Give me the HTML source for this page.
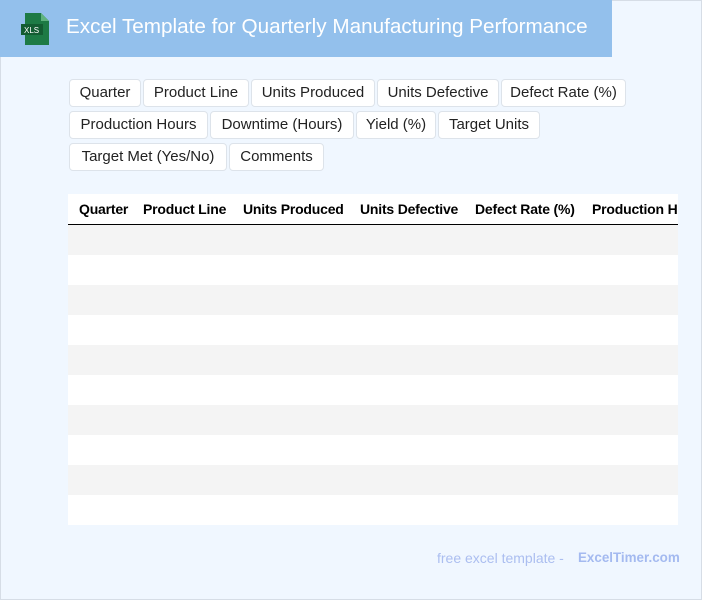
<!DOCTYPE html>
<html><head><meta charset="utf-8"><style>
*{margin:0;padding:0;box-sizing:border-box}
body{width:702px;height:600px;overflow:hidden;background:#fff;font-family:"Liberation Sans",sans-serif}
#pg{position:absolute;left:0;top:0;width:702px;height:600px;background:#f0f7ff}
#bd{position:absolute;left:0;top:0;width:702px;height:600px;border:1px solid #d6dde6}
#hd{position:absolute;left:0;top:0;width:612px;height:57px;background:#93c0ec}
#hd .t{position:absolute;left:66px;top:15px;font-size:20.7px;color:#fff;white-space:nowrap}
.tag{position:absolute;height:28px;background:#fff;border:1px solid #dde3ea;border-radius:4px;font-size:15px;color:#222;line-height:26px;text-align:center;white-space:nowrap}
.th{position:absolute;top:201px;font-size:14px;font-weight:bold;color:#000;white-space:nowrap;letter-spacing:-0.2px}
.r{position:absolute;left:68px;width:610px;height:30px}
</style></head><body><div id="pg">
<div id="bd"></div>
<div id="hd">
<svg style="position:absolute;left:21px;top:13px" width="30" height="32"><path d="M4 0h16l8 8v24H4z" fill="#1d7a45"/><path d="M20 0l8 8h-8z" fill="#5fb37f"/><rect x="0" y="11" width="22" height="11" fill="#135c32"/><text x="3" y="20" font-size="8" fill="#fff" font-family="Liberation Sans">XLS</text></svg>
<div class="t">Excel Template for Quarterly Manufacturing Performance</div></div>
<div class="tag" style="left:69px;top:79px;width:72px">Quarter</div>
<div class="tag" style="left:143px;top:79px;width:106px">Product Line</div>
<div class="tag" style="left:251px;top:79px;width:124px">Units Produced</div>
<div class="tag" style="left:377px;top:79px;width:122px">Units Defective</div>
<div class="tag" style="left:501px;top:79px;width:125px">Defect Rate (%)</div>
<div class="tag" style="left:69px;top:111px;width:139px">Production Hours</div>
<div class="tag" style="left:210px;top:111px;width:144px">Downtime (Hours)</div>
<div class="tag" style="left:356px;top:111px;width:80px">Yield (%)</div>
<div class="tag" style="left:438px;top:111px;width:102px">Target Units</div>
<div class="tag" style="left:69px;top:143px;width:158px">Target Met (Yes/No)</div>
<div class="tag" style="left:229px;top:143px;width:95px">Comments</div>
<div class="r" style="top:194px;height:31px;background:#fff;border-bottom:1.5px solid #000"></div>
<div class="th" style="left:79px">Quarter</div>
<div class="th" style="left:143px">Product Line</div>
<div class="th" style="left:243px">Units Produced</div>
<div class="th" style="left:360px">Units Defective</div>
<div class="th" style="left:475px">Defect Rate (%)</div>
<div class="th" style="left:592px;width:86px;overflow:hidden">Production Hours</div>
<div class="r" style="top:225px;background:#f4f4f4"></div>
<div class="r" style="top:255px;background:#fff"></div>
<div class="r" style="top:285px;background:#f4f4f4"></div>
<div class="r" style="top:315px;background:#fff"></div>
<div class="r" style="top:345px;background:#f4f4f4"></div>
<div class="r" style="top:375px;background:#fff"></div>
<div class="r" style="top:405px;background:#f4f4f4"></div>
<div class="r" style="top:435px;background:#fff"></div>
<div class="r" style="top:465px;background:#f4f4f4"></div>
<div class="r" style="top:495px;background:#fff"></div>
<div style="position:absolute;left:437px;top:550px;font-size:14px;color:#abbef0;white-space:nowrap">free excel template -</div>
<div style="position:absolute;left:578px;top:550px;font-size:13.4px;font-weight:bold;color:#a4baf0;white-space:nowrap">ExcelTimer.com</div>
</div></body></html>
